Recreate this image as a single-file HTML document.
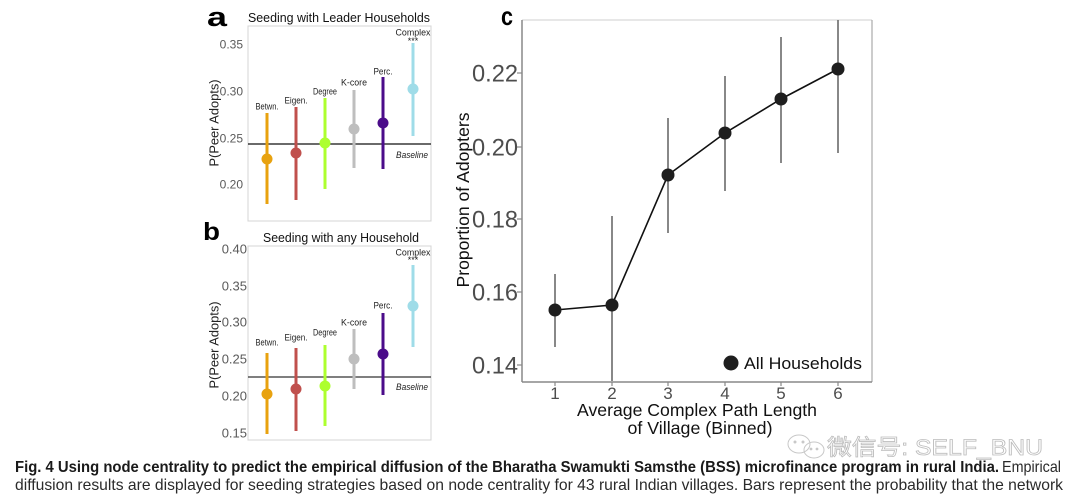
<!DOCTYPE html>
<html><head><meta charset="utf-8"><style>
html,body{margin:0;padding:0;background:#fff;}
svg{display:block;}
text{font-family:"Liberation Sans","Noto Sans CJK SC",sans-serif;}
</style></head><body>
<svg width="1080" height="499" viewBox="0 0 1080 499" xmlns="http://www.w3.org/2000/svg">
<rect width="1080" height="499" fill="#fff"/>

<!-- ============ Panel a ============ -->
<text x="207" y="26" font-size="27" font-weight="bold" fill="#000" textLength="20" lengthAdjust="spacingAndGlyphs">a</text>
<text x="339" y="22" font-size="12.5" text-anchor="middle" fill="#111" textLength="182" lengthAdjust="spacingAndGlyphs">Seeding with Leader Households</text>
<rect x="248" y="26" width="183" height="195" fill="none" stroke="#d4d4d4" stroke-width="1"/>
<g font-size="12" fill="#5a5a5a" text-anchor="end">
<text x="243" y="48.3">0.35</text>
<text x="243" y="95.3">0.30</text>
<text x="243" y="142.3">0.25</text>
<text x="243" y="188.3">0.20</text>
</g>
<text transform="translate(218.5,123) rotate(-90)" font-size="12.5" text-anchor="middle" fill="#222" textLength="87" lengthAdjust="spacingAndGlyphs">P(Peer Adopts)</text>
<line x1="248" y1="144" x2="431" y2="144" stroke="#111" stroke-width="1.3"/>
<g stroke-width="3">
<line x1="267" y1="113" x2="267" y2="204" stroke="#E8A20F"/>
<line x1="296" y1="107" x2="296" y2="200" stroke="#C0504D"/>
<line x1="325" y1="98" x2="325" y2="189" stroke="#ADFF2F"/>
<line x1="354" y1="90" x2="354" y2="168" stroke="#BEBEBE"/>
<line x1="383" y1="77" x2="383" y2="169" stroke="#4B0C8A"/>
<line x1="413" y1="43" x2="413" y2="136" stroke="#9FDCE8"/>
</g>
<circle cx="267" cy="159" r="5.5" fill="#E8A20F"/>
<circle cx="296" cy="153" r="5.5" fill="#C0504D"/>
<circle cx="325" cy="143" r="5.5" fill="#ADFF2F"/>
<circle cx="354" cy="129" r="5.5" fill="#BEBEBE"/>
<circle cx="383" cy="123" r="5.5" fill="#4B0C8A"/>
<circle cx="413" cy="89" r="5.5" fill="#9FDCE8"/>
<g font-size="9.5" fill="#222" text-anchor="middle">
<text x="267" y="109.5" textLength="23" lengthAdjust="spacingAndGlyphs">Betwn.</text>
<text x="296" y="103.5" textLength="23" lengthAdjust="spacingAndGlyphs">Eigen.</text>
<text x="325" y="94.5" textLength="24" lengthAdjust="spacingAndGlyphs">Degree</text>
<text x="354" y="85.5" textLength="26" lengthAdjust="spacingAndGlyphs">K-core</text>
<text x="383" y="74.5" textLength="19" lengthAdjust="spacingAndGlyphs">Perc.</text>
<text x="413" y="35.5" textLength="35" lengthAdjust="spacingAndGlyphs">Complex</text>
<text x="413" y="44" font-size="9">***</text>
</g>
<text x="396" y="158" font-size="9" font-style="italic" fill="#222" textLength="32" lengthAdjust="spacingAndGlyphs">Baseline</text>

<!-- ============ Panel b ============ -->
<text x="203" y="240" font-size="25" font-weight="bold" fill="#000" textLength="17" lengthAdjust="spacingAndGlyphs">b</text>
<text x="341" y="242" font-size="12.5" text-anchor="middle" fill="#111" textLength="156" lengthAdjust="spacingAndGlyphs">Seeding with any Household</text>
<rect x="248" y="246" width="183" height="194" fill="none" stroke="#d4d4d4" stroke-width="1"/>
<g font-size="13" fill="#5a5a5a" text-anchor="end">
<text x="247" y="253.7">0.40</text>
<text x="247" y="290.7">0.35</text>
<text x="247" y="326.7">0.30</text>
<text x="247" y="363.7">0.25</text>
<text x="247" y="400.7">0.20</text>
<text x="247" y="437.7">0.15</text>
</g>
<text transform="translate(218.5,345) rotate(-90)" font-size="12.5" text-anchor="middle" fill="#222" textLength="87" lengthAdjust="spacingAndGlyphs">P(Peer Adopts)</text>
<line x1="248" y1="377" x2="431" y2="377" stroke="#333" stroke-width="1.3"/>
<g stroke-width="3">
<line x1="267" y1="353" x2="267" y2="434" stroke="#E8A20F"/>
<line x1="296" y1="348" x2="296" y2="431" stroke="#C0504D"/>
<line x1="325" y1="345" x2="325" y2="426" stroke="#ADFF2F"/>
<line x1="354" y1="329" x2="354" y2="389" stroke="#BEBEBE"/>
<line x1="383" y1="313" x2="383" y2="395" stroke="#4B0C8A"/>
<line x1="413" y1="265" x2="413" y2="347" stroke="#9FDCE8"/>
</g>
<circle cx="267" cy="394" r="5.5" fill="#E8A20F"/>
<circle cx="296" cy="389" r="5.5" fill="#C0504D"/>
<circle cx="325" cy="386" r="5.5" fill="#ADFF2F"/>
<circle cx="354" cy="359" r="5.5" fill="#BEBEBE"/>
<circle cx="383" cy="354" r="5.5" fill="#4B0C8A"/>
<circle cx="413" cy="306" r="5.5" fill="#9FDCE8"/>
<g font-size="9.5" fill="#222" text-anchor="middle">
<text x="267" y="345.5" textLength="23" lengthAdjust="spacingAndGlyphs">Betwn.</text>
<text x="296" y="340.5" textLength="23" lengthAdjust="spacingAndGlyphs">Eigen.</text>
<text x="325" y="335.5" textLength="24" lengthAdjust="spacingAndGlyphs">Degree</text>
<text x="354" y="325.5" textLength="26" lengthAdjust="spacingAndGlyphs">K-core</text>
<text x="383" y="308.5" textLength="19" lengthAdjust="spacingAndGlyphs">Perc.</text>
<text x="413" y="255.5" textLength="35" lengthAdjust="spacingAndGlyphs">Complex</text>
<text x="413" y="263" font-size="9">***</text>
</g>
<text x="396" y="390" font-size="9" font-style="italic" fill="#222" textLength="32" lengthAdjust="spacingAndGlyphs">Baseline</text>

<!-- ============ Panel c ============ -->
<text x="501" y="25" font-size="26" font-weight="bold" fill="#000" textLength="12" lengthAdjust="spacingAndGlyphs">c</text>
<line x1="522" y1="20" x2="872" y2="20" stroke="#cfcfcf" stroke-width="1"/>
<line x1="872" y1="20" x2="872" y2="382" stroke="#aaa" stroke-width="1.2"/>
<line x1="522" y1="20" x2="522" y2="382" stroke="#888" stroke-width="1.5"/>
<line x1="522" y1="382" x2="872" y2="382" stroke="#888" stroke-width="1.5"/>
<g stroke="#888" stroke-width="1.2">
<line x1="517" y1="73" x2="522" y2="73"/>
<line x1="517" y1="147" x2="522" y2="147"/>
<line x1="517" y1="219" x2="522" y2="219"/>
<line x1="517" y1="292" x2="522" y2="292"/>
<line x1="517" y1="365" x2="522" y2="365"/>
<line x1="555" y1="382" x2="555" y2="386"/>
<line x1="612" y1="382" x2="612" y2="386"/>
<line x1="668" y1="382" x2="668" y2="386"/>
<line x1="725" y1="382" x2="725" y2="386"/>
<line x1="781" y1="382" x2="781" y2="386"/>
<line x1="838" y1="382" x2="838" y2="386"/>
</g>
<g font-size="24" fill="#4d4d4d" text-anchor="end">
<text x="518" y="81.5" textLength="46" lengthAdjust="spacingAndGlyphs">0.22</text>
<text x="518" y="155.5" textLength="46" lengthAdjust="spacingAndGlyphs">0.20</text>
<text x="518" y="227.5" textLength="46" lengthAdjust="spacingAndGlyphs">0.18</text>
<text x="518" y="300.5" textLength="46" lengthAdjust="spacingAndGlyphs">0.16</text>
<text x="518" y="373.5" textLength="46" lengthAdjust="spacingAndGlyphs">0.14</text>
</g>
<g font-size="17" fill="#4d4d4d" text-anchor="middle">
<text x="555" y="399">1</text>
<text x="612" y="399">2</text>
<text x="668" y="399">3</text>
<text x="725" y="399">4</text>
<text x="781" y="399">5</text>
<text x="838" y="399">6</text>
</g>
<text x="697" y="416" font-size="17.5" fill="#111" text-anchor="middle" textLength="240" lengthAdjust="spacingAndGlyphs">Average Complex Path Length</text>
<text x="700" y="434" font-size="17.5" fill="#111" text-anchor="middle" textLength="145" lengthAdjust="spacingAndGlyphs">of Village (Binned)</text>
<text transform="translate(469,200) rotate(-90)" font-size="17.5" fill="#111" text-anchor="middle" textLength="175" lengthAdjust="spacingAndGlyphs">Proportion of Adopters</text>
<g stroke="#6a6a6a" stroke-width="1.6">
<line x1="555" y1="274" x2="555" y2="347"/>
<line x1="612" y1="216" x2="612" y2="381"/>
<line x1="668" y1="118" x2="668" y2="233"/>
<line x1="725" y1="76" x2="725" y2="191"/>
<line x1="781" y1="37" x2="781" y2="163"/>
<line x1="838" y1="20" x2="838" y2="153"/>
</g>
<polyline points="555,310 612,305 668,175 725,133 781,99 838,69" fill="none" stroke="#111" stroke-width="1.6"/>
<g fill="#1e1e1e">
<circle cx="555" cy="310" r="6.5"/>
<circle cx="612" cy="305" r="6.5"/>
<circle cx="668" cy="175" r="6.5"/>
<circle cx="725" cy="133" r="6.5"/>
<circle cx="781" cy="99" r="6.5"/>
<circle cx="838" cy="69" r="6.5"/>
<circle cx="731" cy="363" r="7.5"/>
</g>
<text x="744" y="369" font-size="17" fill="#111" textLength="118" lengthAdjust="spacingAndGlyphs">All Households</text>

<!-- ============ Caption ============ -->
<text x="15" y="472" font-size="16" font-weight="bold" fill="#1a1a1a" textLength="984" lengthAdjust="spacingAndGlyphs">Fig. 4 Using node centrality to predict the empirical diffusion of the Bharatha Swamukti Samsthe (BSS) microfinance program in rural India.</text>
<text x="1002" y="472" font-size="16" fill="#2a2a2a" textLength="59" lengthAdjust="spacingAndGlyphs">Empirical</text>
<text x="15" y="490" font-size="16" fill="#2a2a2a" textLength="1048" lengthAdjust="spacingAndGlyphs">diffusion results are displayed for seeding strategies based on node centrality for 43 rural Indian villages. Bars represent the probability that the network</text>

<!-- ============ Watermark ============ -->
<g fill="none" stroke="#c8c8c8" stroke-width="1">
<ellipse cx="799" cy="444" rx="11" ry="9"/>
<ellipse cx="814" cy="450" rx="10" ry="8"/>
<circle cx="795" cy="442" r="1" fill="#c8c8c8"/>
<circle cx="803" cy="442" r="1" fill="#c8c8c8"/>
<circle cx="811" cy="449" r="0.9" fill="#c8c8c8"/>
<circle cx="817" cy="449" r="0.9" fill="#c8c8c8"/>
</g>
<text x="827" y="455" font-size="22" fill="#ffffff" fill-opacity="0.3" stroke="#bdbdbd" stroke-width="0.8" textLength="216" lengthAdjust="spacingAndGlyphs">微信号: SELF_BNU</text>
</svg>
</body></html>
